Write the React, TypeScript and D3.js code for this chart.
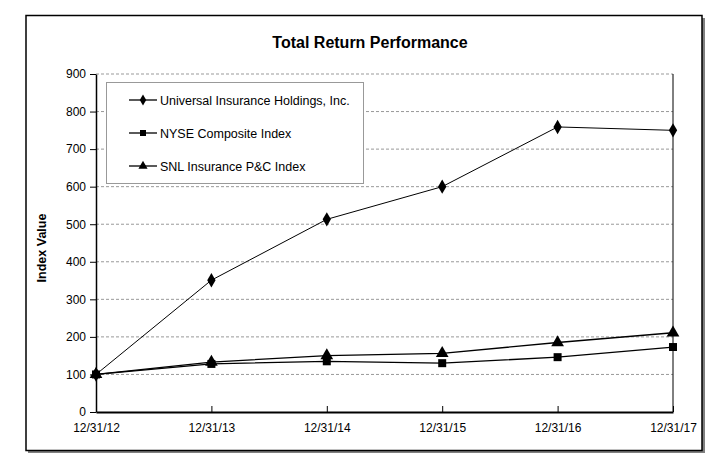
import { useEffect, useRef } from 'react';
import * as d3 from 'd3';

const dates = ['12/31/12', '12/31/13', '12/31/14', '12/31/15', '12/31/16', '12/31/17'];
const universal = [100, 351, 513, 600, 759, 750];
const nyse = [100, 128, 135, 130, 146, 173];
const snl = [100, 133, 150, 156, 185, 211];
const yTicks = [0, 100, 200, 300, 400, 500, 600, 700, 800, 900];

const seriesNames = ['Universal Insurance Holdings, Inc.', 'NYSE Composite Index', 'SNL Insurance P&C Index'];
const seriesValues = [universal, nyse, snl];
const seriesSymbols = [d3.symbolDiamond, d3.symbolSquare, d3.symbolTriangle];

const W = 713;
const H = 466;
const FONT = '"Liberation Sans", Arial, sans-serif';

export default function App() {
  const svgRef = useRef<SVGSVGElement>(null);

  useEffect(() => {
    if (!svgRef.current) return;
    const svg = d3.select(svgRef.current);
    svg.selectAll('*').remove();

    // outer frame with shadow
    svg.append('rect')
      .attr('x', 28).attr('y', 18).attr('width', 677).attr('height', 435)
      .attr('fill', '#808080');
    svg.append('rect')
      .attr('x', 26).attr('y', 15.5).attr('width', 676).attr('height', 435)
      .attr('fill', '#fff').attr('stroke', '#000').attr('stroke-width', 1.5);

    const left = 96, right = 673, top = 74, bottom = 412;

    const x = d3.scalePoint<string>().domain(dates).range([left, right]);
    const y = d3.scaleLinear().domain([0, 900]).range([bottom, top]);

    // gridlines
    svg.append('g')
      .selectAll('line')
      .data(yTicks.filter((d) => d > 0))
      .enter()
      .append('line')
      .attr('x1', left).attr('x2', right)
      .attr('y1', (d) => y(d)).attr('y2', (d) => y(d))
      .attr('stroke', '#999').attr('stroke-width', 1)
      .attr('stroke-dasharray', '3,2');

    // right border of plot
    svg.append('line')
      .attr('x1', right).attr('x2', right).attr('y1', top).attr('y2', bottom)
      .attr('stroke', '#000').attr('stroke-width', 1);

    // y axis
    const yAxis = svg.append('g')
      .attr('transform', `translate(${left},0)`)
      .call(d3.axisLeft(y).tickValues(yTicks).tickSize(6).tickSizeOuter(0).tickPadding(4));
    yAxis.select('.domain').attr('stroke', '#000').attr('stroke-width', 1.5);
    yAxis.selectAll('text').attr('font-family', FONT).attr('font-size', '12px').attr('fill', '#000');

    // x axis
    const xAxis = svg.append('g')
      .attr('transform', `translate(0,${bottom})`)
      .call(d3.axisTop(x).tickSize(6).tickSizeOuter(0));
    xAxis.select('.domain').attr('stroke', '#000').attr('stroke-width', 2);
    xAxis.selectAll('text')
      .attr('font-family', FONT).attr('font-size', '12px').attr('fill', '#000')
      .attr('y', 20);

    // series lines and markers
    const line = d3.line<number>()
      .x((_, i) => x(dates[i]) ?? 0)
      .y((d) => y(d));

    const sizes = [60, 64, 70];
    seriesValues.forEach((vals, s) => {
      svg.append('path')
        .datum(vals)
        .attr('d', line)
        .attr('fill', 'none')
        .attr('stroke', '#000')
        .attr('stroke-width', s === 0 ? 1 : 1.3);
      svg.append('g')
        .selectAll('path')
        .data(vals)
        .enter()
        .append('path')
        .attr('transform', (d, i) => `translate(${x(dates[i])},${y(d)})`)
        .attr('d', d3.symbol().type(seriesSymbols[s]).size(sizes[s])())
        .attr('fill', '#000');
    });

    // legend
    const lg = svg.append('g');
    lg.append('rect')
      .attr('x', 106.5).attr('y', 82.5).attr('width', 257).attr('height', 101)
      .attr('fill', '#fff').attr('stroke', '#999').attr('stroke-width', 1);
    const legendY = [100, 133, 166];
    seriesNames.forEach((name, i) => {
      lg.append('line')
        .attr('x1', 129).attr('x2', 157).attr('y1', legendY[i]).attr('y2', legendY[i])
        .attr('stroke', '#000').attr('stroke-width', 1.3);
      lg.append('path')
        .attr('transform', `translate(143,${legendY[i]})`)
        .attr('d', d3.symbol().type(seriesSymbols[i]).size(i === 0 ? 36 : 36)())
        .attr('fill', '#000');
      lg.append('text')
        .attr('x', 160).attr('y', legendY[i] + 4.5)
        .attr('font-family', FONT).attr('font-size', '12.5px').attr('fill', '#000')
        .text(name);
    });

    // title
    svg.append('text')
      .attr('x', 370).attr('y', 48)
      .attr('text-anchor', 'middle')
      .attr('font-family', FONT).attr('font-size', '16px').attr('font-weight', 'bold')
      .text('Total Return Performance');

    // y label
    svg.append('text')
      .attr('transform', `translate(46,${(top + bottom) / 2 + 5}) rotate(-90)`)
      .attr('text-anchor', 'middle')
      .attr('font-family', FONT).attr('font-size', '12.5px').attr('font-weight', 'bold')
      .text('Index Value');
  }, []);

  return (
    <svg
      ref={svgRef}
      width={W}
      height={H}
      style={{ position: 'absolute', left: 0, top: 0, background: '#fff' }}
    />
  );
}
